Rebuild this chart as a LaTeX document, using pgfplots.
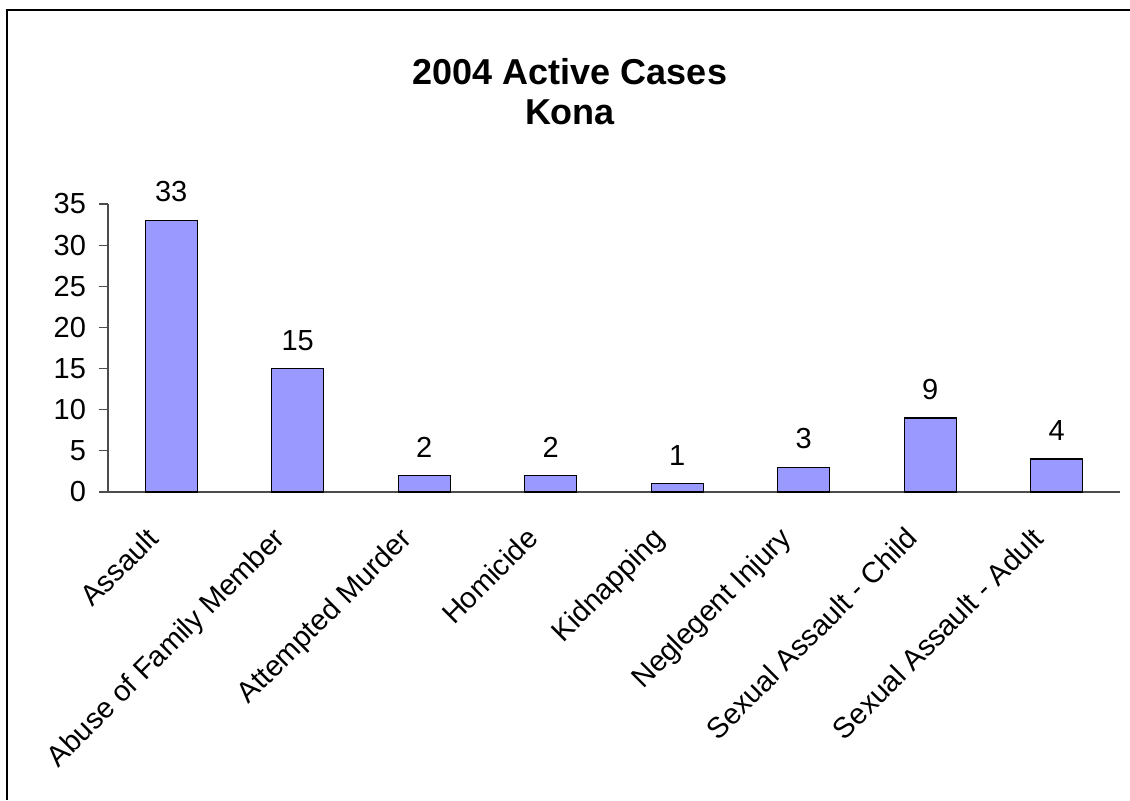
\documentclass[border=0pt]{standalone}
\usepackage{pgfplots}
\pgfplotsset{compat=1.18}
\usepackage{fontspec}
\setmainfont{Liberation Sans}
\definecolor{barfill}{HTML}{9999FF}
\begin{document}
\begin{tikzpicture}
\begin{axis}[
  at={(54pt,154pt)}, anchor=south west,
  scale only axis, width=506pt, height=144pt,
  xmin=-0.5, xmax=7.5, ymin=0, ymax=35,
  axis x line=bottom, axis y line=left,
  axis line style={-, line width=0.6pt, black!70},
  ytick={0,5,...,35},
  xtick={0,...,7},
  xticklabels={Assault,Abuse of Family Member,Attempted Murder,Homicide,Kidnapping,Neglegent Injury,Sexual Assault - Child,Sexual Assault - Adult},
  x tick label style={xshift=-13pt, yshift=-12pt, rotate=45, anchor=north east, inner sep=0pt},
  y tick label style={xshift=-3pt},
  major x tick style={draw=none},
  extra x ticks={-0.5,0.5,...,7.5},
  extra x tick labels={},
  extra x tick style={tick style={black!70, line width=0.6pt}, major tick length=4.5pt, tick align=outside},
  tick align=outside,
  major tick length=4.5pt,
  y tick style={black!70, line width=0.6pt},
  ticklabel style={font=\fontsize{14.5}{16}\selectfont},
  /pgf/number format/assume math mode=true,
  tick pos=left,
  ybar, bar width=26pt,
  nodes near coords,
  nodes near coords style={font=\fontsize{14.5}{16}\selectfont, yshift=5.5pt},
  clip=false,
]
\addplot[fill=barfill, draw=black, line width=0.6pt] coordinates {(0,33) (1,15) (2,2) (3,2) (4,1) (5,3) (6,9) (7,4)};
\end{axis}
\pgfresetboundingbox
\useasboundingbox (0pt,0pt) rectangle (565pt,400pt);
\draw[line width=1.2pt] (3.5pt,0pt) -- (3.5pt,395pt) -- (565pt,395pt);
\node[font=\fontsize{18}{20}\selectfont\bfseries,align=center] at (285pt,354pt) {2004 Active Cases\\[0pt]Kona};
\end{tikzpicture}
\end{document}
